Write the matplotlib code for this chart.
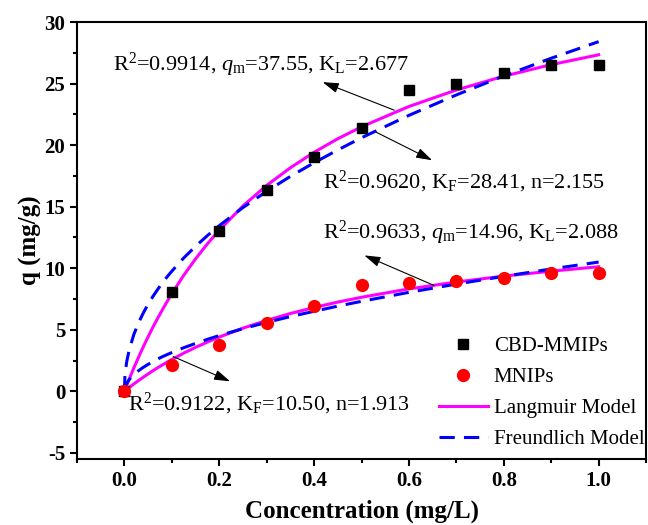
import matplotlib
matplotlib.use("Agg")
import matplotlib.pyplot as plt
from matplotlib.ticker import MultipleLocator

plt.rcParams['font.family'] = ['Liberation Serif', 'DejaVu Serif']
plt.rcParams['mathtext.fontset'] = 'custom'
plt.rcParams['mathtext.rm'] = 'Liberation Serif'
plt.rcParams['mathtext.it'] = 'Liberation Serif:italic'
plt.rcParams['mathtext.bf'] = 'Liberation Serif:bold'
plt.rcParams['axes.unicode_minus'] = False

# Measured data
conc = [0.0, 0.1, 0.2, 0.3, 0.4, 0.5, 0.6, 0.7, 0.8, 0.9, 1.0]
q_mmips = [0.0, 8.06, 13.02, 16.35, 19.0, 21.4, 24.45, 24.95, 25.85, 26.55, 26.55]
q_mnips = [0.0, 2.17, 3.8, 5.55, 6.95, 8.6, 8.84, 9.0, 9.23, 9.6, 9.6]

# Fitted model curves
curve_x = [0.0, 0.001, 0.002, 0.005, 0.01, 0.02, 0.03, 0.04, 0.05, 0.06, 0.07, 0.08,
           0.09, 0.1, 0.125, 0.15, 0.175, 0.2, 0.25, 0.3, 0.35, 0.4, 0.45, 0.5,
           0.6, 0.7, 0.8, 0.9, 1.0]
lang_mmips = [0.0, 0.10, 0.20, 0.49, 0.98, 1.91, 2.79, 3.63, 4.43, 5.20, 5.93, 6.62,
              7.29, 7.93, 9.42, 10.76, 11.98, 13.09, 15.06, 16.73, 18.16, 19.42, 20.52, 21.49,
              23.14, 24.48, 25.60, 26.54, 27.34]
freu_mmips = [0.0, 1.15, 1.59, 2.43, 3.35, 4.63, 5.58, 6.38, 7.08, 7.70, 8.27, 8.80,
              9.30, 9.76, 10.83, 11.78, 12.65, 13.46, 14.93, 16.25, 17.46, 18.57, 19.61, 20.60,
              22.42, 24.08, 25.62, 27.06, 28.41]
lang_mnips = [0.0, 0.03, 0.06, 0.15, 0.31, 0.60, 0.88, 1.15, 1.41, 1.67, 1.91, 2.14,
              2.37, 2.58, 3.10, 3.57, 4.00, 4.41, 5.13, 5.76, 6.32, 6.81, 7.25, 7.64,
              8.32, 8.88, 9.36, 9.76, 10.12]
freu_mnips = [0.0, 0.28, 0.41, 0.66, 0.95, 1.36, 1.68, 1.95, 2.19, 2.41, 2.62, 2.81,
              2.98, 3.15, 3.54, 3.89, 4.22, 4.53, 5.09, 5.60, 6.07, 6.50, 6.92, 7.31,
              8.04, 8.71, 9.34, 9.94, 10.50]

fig = plt.figure(figsize=(6.48, 5.25), dpi=100)
ax = fig.add_axes([0.1188, 0.1257, 0.8782, 0.8323])

magenta = '#FF00FF'
blue = '#0000FF'

h_sq, = ax.plot(conc, q_mmips, 's', color='black', markersize=7, linestyle='none',
                label='CBD-MMIPs', zorder=4)
h_ci, = ax.plot(conc, q_mnips, 'o', color='#FF0000', markersize=8.5, linestyle='none',
                label='MNIPs', zorder=4)
h_l, = ax.plot(curve_x, lang_mmips, '-', color=magenta, lw=2.2, label='Langmuir Model', zorder=3)
ax.plot(curve_x, lang_mnips, '-', color=magenta, lw=2.2, zorder=3)
h_f, = ax.plot(curve_x, freu_mmips, '--', color=blue, lw=2.2, dashes=(5, 3),
               label='Freundlich Model', zorder=3)
ax.plot(curve_x, freu_mnips, '--', color=blue, lw=2.2, dashes=(5, 3), zorder=3)

ax.set_xlim(-0.1, 1.1)
ax.set_ylim(-5.5, 30)
ax.xaxis.set_major_locator(MultipleLocator(0.2))
ax.xaxis.set_minor_locator(MultipleLocator(0.1))
ax.yaxis.set_major_locator(MultipleLocator(5))
ax.yaxis.set_minor_locator(MultipleLocator(2.5))
ax.set_xticks([0.0, 0.2, 0.4, 0.6, 0.8, 1.0])
ax.tick_params(which='both', direction='out', top=False, right=False, width=1.5)
ax.tick_params(which='major', length=5, labelsize=15)
ax.tick_params(which='minor', length=3)
for lab in ax.get_xticklabels() + ax.get_yticklabels():
    lab.set_fontweight('bold')
for s in ax.spines.values():
    s.set_linewidth(1.5)

ax.set_xlabel('Concentration (mg/L)', fontsize=18, fontweight='bold', labelpad=6)
ax.set_ylabel('q (mg/g)', fontsize=18, fontweight='bold', labelpad=2)

arrow = dict(arrowstyle='-|>,head_length=0.7,head_width=0.22', color='black', lw=0.8,
             mutation_scale=14, shrinkA=0, shrinkB=0)
fs = 16
ax.annotate('', xy=(0.418, 25.12), xytext=(0.569, 22.84), arrowprops=arrow)
ax.text(-0.023, 26.5, r'R$^2$=0.9914, $q_{\rm m}$=37.55, K$_{\rm L}$=2.677', fontsize=fs,
        va='center', ha='left')
ax.annotate('', xy=(0.649, 18.77), xytext=(0.531, 21.05), arrowprops=arrow)
ax.text(0.418, 16.98, r'R$^2$=0.9620, K$_{\rm F}$=28.41, n=2.155', fontsize=fs,
        va='center', ha='left')
ax.annotate('', xy=(0.506, 11.04), xytext=(0.653, 8.6), arrowprops=arrow)
ax.text(0.418, 12.83, r'R$^2$=0.9633, $q_{\rm m}$=14.96, K$_{\rm L}$=2.088', fontsize=fs,
        va='center', ha='left')
ax.annotate('', xy=(0.223, 0.81), xytext=(0.103, 2.82), arrowprops=arrow)
ax.text(0.008, -1.0, r'R$^2$=0.9122, K$_{\rm F}$=10.50, n=1.913', fontsize=fs,
        va='center', ha='left')

ax.legend(handles=[h_sq, h_ci, h_l, h_f], loc='lower right', bbox_to_anchor=(1.021, -0.009),
          frameon=False, fontsize=15, handlelength=2.35, handletextpad=0.3,
          labelspacing=0.55, borderaxespad=0.25)

fig.savefig('out.png', dpi=100)
